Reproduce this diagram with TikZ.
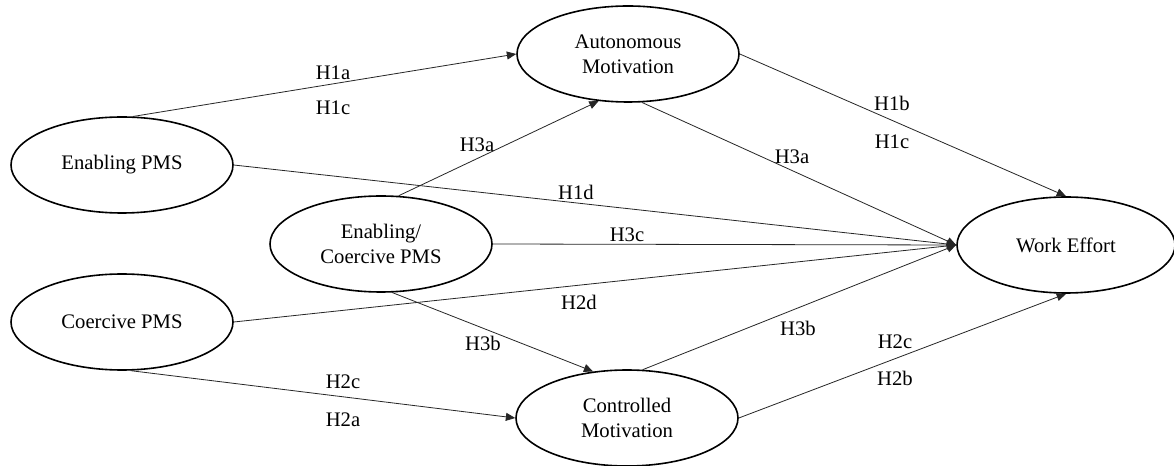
\documentclass[tikz,border=0pt]{standalone}
\usepackage{fontspec}
\setmainfont{Liberation Serif}
\usetikzlibrary{shapes.geometric,arrows.meta}
\tikzset{
  construct/.style={ellipse, draw=black, line width=1.2pt, minimum width=166.5pt, minimum height=72pt, inner sep=0pt, align=center, font=\fontsize{15.5}{18.75}\selectfont},
  path/.style={draw=black!85, line width=0.6pt, -{Triangle[length=7pt,width=6pt]}},
  hyp/.style={inner sep=0pt, font=\fontsize{15.5}{18.75}\selectfont}
}
\begin{document}
\begin{tikzpicture}[x=0.75pt,y=-0.75pt]
\useasboundingbox (0,0) rectangle (1174,466);
\fill[white] (0,0) rectangle (1174,466);
% constructs
\node[construct] (ep) at (122,165) {Enabling PMS};
\node[construct] (cp) at (122,322) {Coercive PMS};
\node[construct] (ec) at (381,244) {Enabling/\\Coercive PMS};
\node[construct] (am) at (628,54) {Autonomous\\Motivation};
\node[construct] (cm) at (627,418) {Controlled\\Motivation};
\node[construct, minimum width=163.5pt] (we) at (1066,245) {Work Effort};
% connectors
\draw[path] (ep.77) -- (am.west);
\draw[path] (ep.east) -- (we.west);
\draw[path] (ec.70) -- (am.238);
\draw[path] (am.286) -- (we.west);
\draw[path] (am.east) -- (we.north);
\draw[path] (ec.east) -- (we.west);
\draw[path] (cp.east) -- (we.west);
\draw[path] (ec.283) -- (cm.126);
\draw[path] (cp.280) -- (cm.west);
\draw[path] (cm.72) -- (we.west);
\draw[path] (cm.east) -- (we.south);
% labels
\node[hyp] (l1) at (333,73) {H1a};
\node[hyp] (l2) at (333,108) {H1c};
\node[hyp] (l3) at (576,192) {H1d};
\node[hyp] (l4) at (477,145) {H3a};
\node[hyp] (l5) at (792,157) {H3a};
\node[hyp] (l6) at (892,103) {H1b};
\node[hyp] (l7) at (892,142) {H1c};
\node[hyp] (l8) at (627,235) {H3c};
\node[hyp] (l9) at (579,302) {H2d};
\node[hyp] (l10) at (483,343) {H3b};
\node[hyp] (l11) at (343,382) {H2c};
\node[hyp] (l12) at (343,420) {H2a};
\node[hyp] (l13) at (798,328) {H3b};
\node[hyp] (l14) at (895,342) {H2c};
\node[hyp] (l15) at (895,378) {H2b};
\end{tikzpicture}
\end{document}
